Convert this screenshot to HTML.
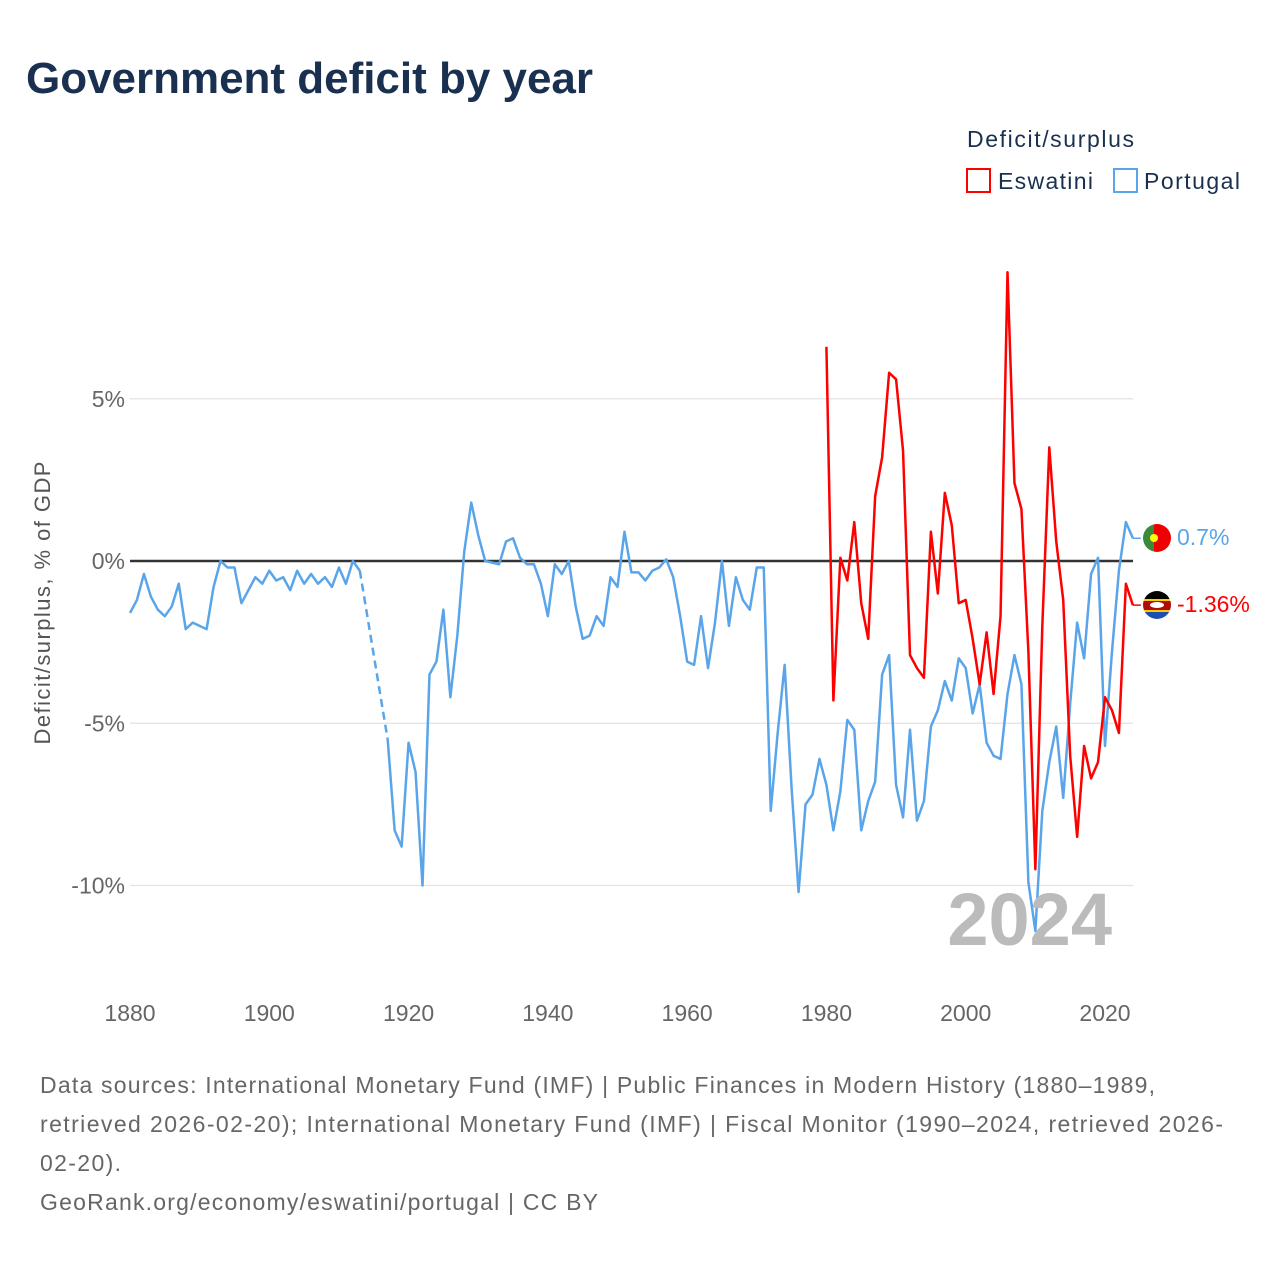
<!DOCTYPE html>
<html><head><meta charset="utf-8">
<style>
body{margin:0;background:#fff;font-family:"Liberation Sans",sans-serif;}
#wrap{position:relative;width:1280px;height:1280px;overflow:hidden;}
</style></head>
<body><div id="wrap">
<svg id="chart" width="1280" height="1280" xmlns="http://www.w3.org/2000/svg">
<text x="26" y="93" font-size="44" font-weight="bold" fill="#1a3050" textLength="567">Government deficit by year</text>
<text x="967" y="147" font-size="23" fill="#1a3050" textLength="167">Deficit/surplus</text>
<g><rect x="967" y="169" width="23" height="23" fill="none" stroke="#f00" stroke-width="2"/><text x="998" y="189" font-size="23" fill="#1a3050" textLength="95">Eswatini</text></g>
<g><rect x="1114" y="169" width="23" height="23" fill="none" stroke="#5aa5ea" stroke-width="2"/><text x="1144" y="189" font-size="23" fill="#1a3050" textLength="96">Portugal</text></g>
<text transform="translate(50,603) rotate(-90)" text-anchor="middle" font-size="22" fill="#555" textLength="283">Deficit/surplus, % of GDP</text>
<g id="grid"></g><g id="xt"></g><g id="series"></g>
<text x="1112" y="945" text-anchor="end" font-size="74" font-weight="bold" fill="#bbb">2024</text>
<g><clipPath id="cp1"><circle cx="1157" cy="538" r="14"/></clipPath><g clip-path="url(#cp1)"><rect x="1143" y="524" width="11" height="28" fill="#3a8a3a"/><rect x="1154" y="524" width="17" height="28" fill="#e00"/></g><circle cx="1154" cy="538" r="4" fill="#ff0"/></g>
<g><clipPath id="cp2"><circle cx="1157" cy="605" r="14"/></clipPath><g clip-path="url(#cp2)"><rect x="1143" y="591" width="28" height="8" fill="#000"/><rect x="1143" y="599" width="28" height="2" fill="#fc0"/><rect x="1143" y="601" width="28" height="9" fill="#b10c0c"/><rect x="1143" y="610" width="28" height="2" fill="#fc0"/><rect x="1143" y="612" width="28" height="8" fill="#1d4fb0"/></g><ellipse cx="1157" cy="605" rx="7" ry="3" fill="#fff"/></g>
<text id="lblP" x="1177" y="545" font-size="23" fill="#5aa5ea"></text>
<text id="lblE" x="1177" y="612" font-size="23" fill="#f00"></text>
<g font-size="23" fill="#666">
<text x="40" y="1093" textLength="1115">Data sources: International Monetary Fund (IMF) | Public Finances in Modern History (1880–1989,</text>
<text x="40" y="1132" textLength="1183">retrieved 2026-02-20); International Monetary Fund (IMF) | Fiscal Monitor (1990–2024, retrieved 2026-</text>
<text x="40" y="1171" textLength="81">02-20).</text>
</g>
<text x="40" y="1210" font-size="23" fill="#666" textLength="558">GeoRank.org/economy/eswatini/portugal | CC BY</text>
</svg>
</div>
<script>
const yTicks=[5,0,-5,-10];
const yTickLabels=["5%","0%","-5%","-10%"];
const xTicks=[1880,1900,1920,1940,1960,1980,2000,2020];
const portugalStart=1880;
const portugalValues=[-1.6,-1.2,-0.4,-1.1,-1.5,-1.7,-1.4,-0.7,-2.1,-1.9,-2.0,-2.1,-0.8,0.0,-0.2,-0.2,-1.3,-0.9,-0.5,-0.7,-0.3,-0.6,-0.5,-0.9,-0.3,-0.7,-0.4,-0.7,-0.5,-0.8,-0.2,-0.7,0.0,-0.3,null,null,null,-5.5,-8.3,-8.8,-5.6,-6.5,-10.0,-3.5,-3.1,-1.5,-4.2,-2.3,0.3,1.8,0.8,0.0,-0.05,-0.1,0.6,0.7,0.1,-0.1,-0.1,-0.7,-1.7,-0.1,-0.4,0.0,-1.4,-2.4,-2.3,-1.7,-2.0,-0.5,-0.8,0.9,-0.35,-0.35,-0.6,-0.3,-0.2,0.05,-0.5,-1.7,-3.1,-3.2,-1.7,-3.3,-1.9,0.0,-2.0,-0.5,-1.2,-1.5,-0.2,-0.2,-7.7,-5.3,-3.2,-7.0,-10.2,-7.5,-7.2,-6.1,-6.9,-8.3,-7.1,-4.9,-5.2,-8.3,-7.4,-6.8,-3.5,-2.9,-6.9,-7.9,-5.2,-8.0,-7.4,-5.1,-4.6,-3.7,-4.3,-3.0,-3.3,-4.7,-3.8,-5.6,-6.0,-6.1,-4.1,-2.9,-3.8,-9.9,-11.4,-7.7,-6.2,-5.1,-7.3,-4.4,-1.9,-3.0,-0.4,0.1,-5.7,-2.8,-0.3,1.2,0.7];
const eswatiniStart=1980;
const eswatiniValues=[6.6,-4.3,0.1,-0.6,1.2,-1.3,-2.4,2.0,3.2,5.8,5.6,3.4,-2.9,-3.3,-3.6,0.9,-1.0,2.1,1.1,-1.3,-1.2,-2.4,-3.8,-2.2,-4.1,-1.7,8.9,2.4,1.6,-2.8,-9.5,-2.0,3.5,0.6,-1.2,-6.0,-8.5,-5.7,-6.7,-6.2,-4.2,-4.6,-5.3,-0.7,-1.36];
const NS="http://www.w3.org/2000/svg";
const X=y=>130+(y-1880)*(975/140);
const Y=v=>561-v*32.45;
const mk=(t,a,p)=>{const e=document.createElementNS(NS,t);for(const k in a)e.setAttribute(k,a[k]);p.appendChild(e);return e;};
const grid=document.getElementById('grid');
yTicks.forEach((v,i)=>{
 const l=mk('line',{x1:130,x2:1133,y1:Y(v),y2:Y(v),stroke:v===0?'#333':'#e3e3e3','stroke-width':v===0?2.5:1.2},grid);
 
 
 const t=mk('text',{x:125,y:Y(v)+8,'text-anchor':'end','font-size':23,fill:'#666'},grid);t.textContent=yTickLabels[i];
 
 
});
const xt=document.getElementById('xt');
xTicks.forEach(y=>{const t=mk('text',{x:X(y),y:1021,'text-anchor':'middle','font-size':23,fill:'#666'},xt);t.textContent=y;
 
 });
const ser=document.getElementById('series');
function draw(start,vals,color,name){
 let seg=[],segs=[];
 vals.forEach((v,i)=>{if(v===null){if(seg.length)segs.push(seg);seg=[];}else seg.push([X(start+i),Y(v)]);});
 if(seg.length)segs.push(seg);
 segs.forEach(s=>{const p=mk('polyline',{points:s.map(q=>q.join(',')).join(' '),fill:'none',stroke:color,'stroke-width':2.5,'stroke-linejoin':'round'},ser);
  
  });
 for(let i=1;i<segs.length;i++){const a=segs[i-1][segs[i-1].length-1],b=segs[i][0];
  const d=mk('line',{x1:a[0],y1:a[1],x2:b[0],y2:b[1],stroke:color,'stroke-width':2.5,'stroke-dasharray':'8,5'},ser);
  
  }
 const last=vals[vals.length-1];
 mk('line',{x1:X(start+vals.length-1),y1:Y(last),x2:X(start+vals.length-1)+8,y2:Y(last),stroke:color,'stroke-width':1.5},ser);
 return last;
}
draw(portugalStart,portugalValues,'#5aa5ea','portugal');
draw(eswatiniStart,eswatiniValues,'#f00','eswatini');
document.getElementById('lblP').textContent=portugalValues[portugalValues.length-1]+'%';
document.getElementById('lblE').textContent=eswatiniValues[eswatiniValues.length-1]+'%';
</script>
</body></html>
